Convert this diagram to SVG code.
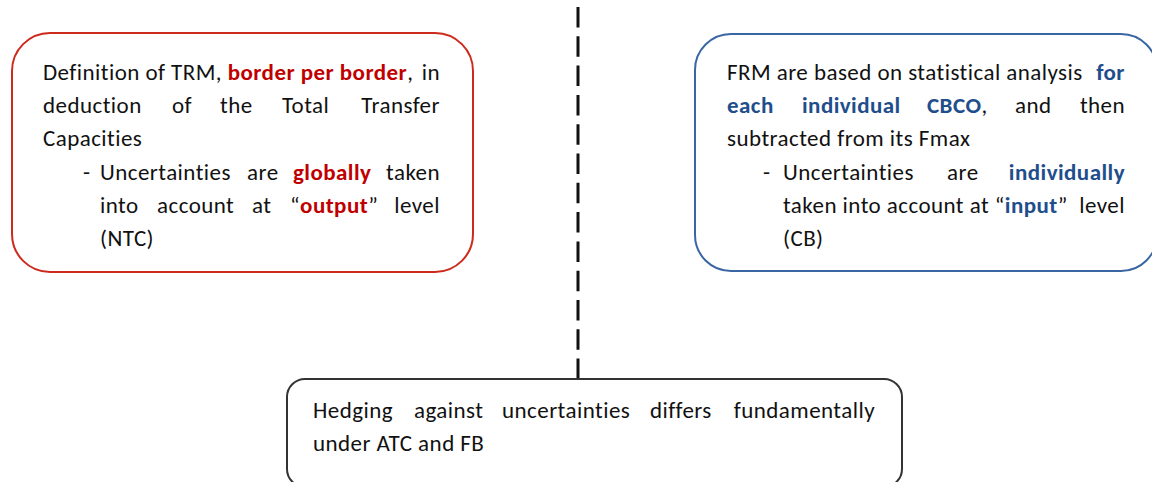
<svg xmlns="http://www.w3.org/2000/svg" width="1152" height="482" viewBox="0 0 1152 482">
  <style>
    text { font-family: Carlito, Calibri, Lato, "Liberation Sans", sans-serif; font-size: 23px; letter-spacing: 0.45px; fill: #111; }
    .end { text-anchor: end; }
    .red { fill: #c00000; font-weight: bold; }
    .blue { fill: #1f4e8c; font-weight: bold; }
    .box { fill: #fff; stroke-width: 2; }
  </style>
  <rect width="1152" height="482" fill="#fff"/>

  <!-- vertical dashed divider and its link to the conclusion box -->
  <g id="connectors">
    <line x1="578" y1="7" x2="578" y2="379" stroke="#111" stroke-width="3" stroke-dasharray="20.5 8.8"/>
  </g>

  <!-- ATC side -->
  <g id="atc">
    <rect class="box" x="12" y="33" width="461" height="239" rx="38" ry="38" stroke="#cc2a1d"/>
    <text x="43" y="79.5">Definition of TRM, <tspan class="red">border per border</tspan>,</text>
    <text class="end" x="440" y="79.5">in</text>
    <text y="113"><tspan x="43">deduction</tspan><tspan x="172">of</tspan><tspan x="220">the</tspan><tspan x="282">Total</tspan></text>
    <text class="end" x="440" y="113">Transfer</text>
    <text x="43" y="146">Capacities</text>
    <text y="179.5"><tspan x="83">-</tspan><tspan x="100">Uncertainties</tspan><tspan x="247">are</tspan><tspan x="293" class="red">globally</tspan></text>
    <text class="end" x="440" y="179.5">taken</text>
    <text y="213"><tspan x="100">into</tspan><tspan x="157">account</tspan><tspan x="252">at</tspan><tspan x="290">“</tspan><tspan class="red">output</tspan><tspan>”</tspan></text>
    <text class="end" x="440" y="213">level</text>
    <text x="100" y="246">(NTC)</text>
  </g>

  <!-- FB side -->
  <g id="fb">
    <rect class="box" x="695" y="34" width="462" height="237" rx="36" ry="36" stroke="#3a67a3"/>
    <text x="727" y="79.5">FRM are based on statistical analysis</text>
    <text class="end blue" x="1125" y="79.5">for</text>
    <text y="113"><tspan x="727" class="blue">each</tspan><tspan x="802" class="blue">individual</tspan><tspan x="927" class="blue">CBCO</tspan><tspan>,</tspan><tspan x="1015">and</tspan></text>
    <text class="end" x="1125" y="113">then</text>
    <text x="727" y="146">subtracted from its Fmax</text>
    <text y="179.5"><tspan x="763">-</tspan><tspan x="783">Uncertainties</tspan><tspan x="947">are</tspan></text>
    <text class="end blue" x="1125" y="179.5">individually</text>
    <text x="783" y="213">taken into account at “<tspan class="blue">input</tspan>”</text>
    <text class="end" x="1125" y="213">level</text>
    <text x="783" y="246">(CB)</text>
  </g>

  <!-- conclusion -->
  <g id="conclusion">
    <rect class="box" x="287" y="379" width="615" height="108" rx="18" ry="18" stroke="#333" stroke-width="1.8"/>
    <text y="418"><tspan x="313">Hedging</tspan><tspan x="414">against</tspan><tspan x="502">uncertainties</tspan><tspan x="650">differs</tspan></text>
    <text class="end" x="875" y="418">fundamentally</text>
    <text x="313" y="451">under ATC and FB</text>
  </g>
</svg>
